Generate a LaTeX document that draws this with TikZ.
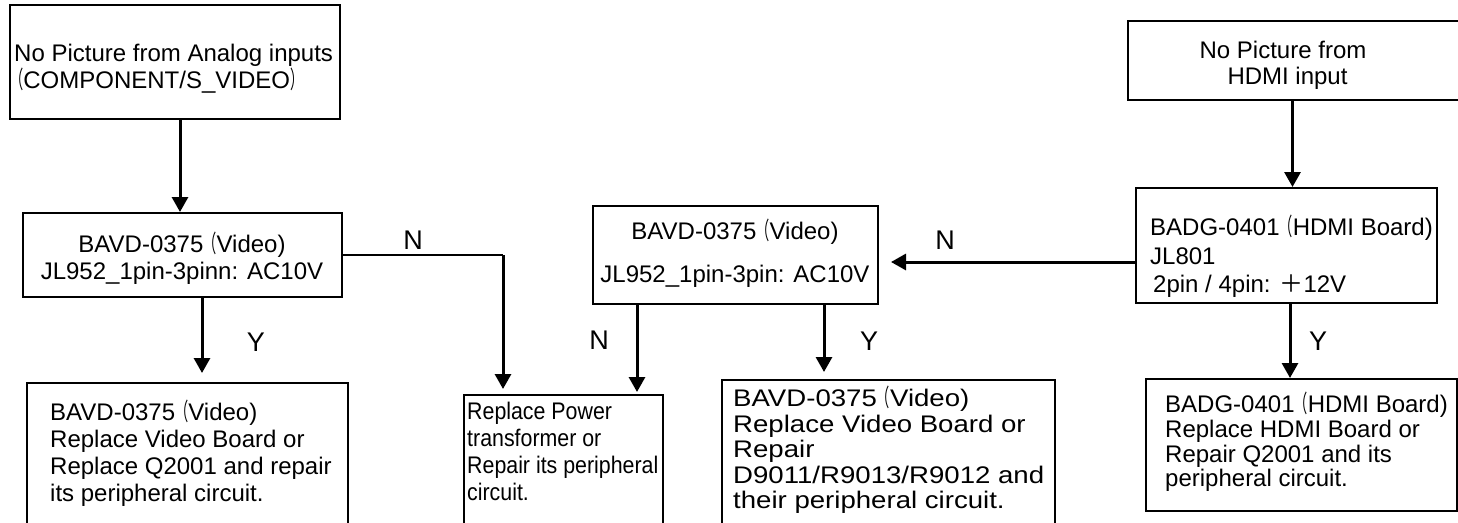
\documentclass[tikz,border=0pt]{standalone}
\usepackage{fontspec}
\setmainfont{Liberation Sans}
\newfontfamily\cjkfont{Noto Sans CJK JP}
\newfontfamily\cjknarrow[FakeStretch=0.55]{Noto Sans CJK JP}
\newfontfamily\narrowfont[FakeStretch=0.89]{Liberation Sans}
\newfontfamily\widefont[FakeStretch=1.15]{Liberation Sans}
\usetikzlibrary{arrows.meta,fit}
\newcommand\fwlp{{\cjknarrow （}}
\newcommand\fwrp{{\cjknarrow ）}}
\newcommand\fwplus{{\cjkfont ＋}}
\begin{document}
\begin{tikzpicture}[x=1pt,y=-1pt,
  box/.style={draw, line width=2pt, inner sep=0pt},
  txt/.style={inner sep=0pt, font=\fontsize{24}{#1}\selectfont},
  lab/.style={inner sep=0pt, font=\fontsize{27}{30}\selectfont},
  arr/.style={line width=3pt, -{Triangle[length=15pt,width=16pt]}},
  thinline/.style={line width=1.6pt}]
\useasboundingbox (0,0) rectangle (1458,522);
\clip (0,0) rectangle (1458,522);
% boxes
\node[box, fit={(10,5) (340,119)}] (b1) {};
\node[box, fit={(1128,21) (1475,100)}] (b2) {};
\node[box, fit={(23,213) (342,297)}] (b3) {};
\node[box, fit={(593,206) (878,304)}] (b4) {};
\node[box, fit={(1136,188) (1437,303)}] (b5) {};
\node[box, fit={(27,383) (348,545)}] (b6) {};
\node[box, fit={(464,395) (663,545)}] (b7) {};
\node[box, fit={(722,380) (1055,545)}] (b8) {};
\node[box, fit={(1146,379) (1457,511)}] (b9) {};
% texts
\node[txt=27, anchor=west, align=left] (t1) at (14,68.5)
  {No Picture from Analog inputs\\\hspace*{-4pt}\fwlp COMPONENT/S\_VIDEO\fwrp};
\node[txt=26, align=center] (t2) at (1283,65) {No Picture from\\\hspace{9pt}HDMI input};
\node[txt=27, align=center] (t3) at (182,258.5) {BAVD-0375\fwlp Video)\\JL952\_1pin-3pinn: AC10V};
\node[txt=43, align=center] (t4) at (735,253.5) {BAVD-0375\fwlp Video)\\JL952\_1pin-3pin: AC10V};
\node[txt=28.5, anchor=west, align=left] (t5) at (1150,256.5)
  {BADG-0401\fwlp HDMI Board)\\JL801\\\hspace{3pt}2pin / 4pin: \fwplus 12V};
\node[txt=27, anchor=west, align=left] (t6) at (50,453.5)
  {BAVD-0375\fwlp Video)\\Replace Video Board or\\Replace Q2001 and repair\\its peripheral circuit.};
\node[inner sep=0pt, anchor=west, align=left, font={\narrowfont\fontsize{24}{27}\selectfont}] (t7) at (467,451.5)
  {Replace Power\\transformer or\\Repair its peripheral\\circuit.};
\node[inner sep=0pt, anchor=west, align=left, font={\widefont\fontsize{24}{25.5}\selectfont}] (t8) at (733,450)
  {BAVD-0375\fwlp Video)\\Replace Video Board or\\Repair\\D9011/R9013/R9012 and\\their peripheral circuit.};
\node[txt=24.7, anchor=west, align=left] (t9) at (1165,442)
  {BADG-0401\fwlp HDMI Board)\\Replace HDMI Board or\\Repair Q2001 and its\\peripheral circuit.};
% labels
\node[lab] (ln1) at (413,240) {N};
\node[lab] (ly1) at (256,342) {Y};
\node[lab] (ln2) at (599,340) {N};
\node[lab] (ly2) at (869,341) {Y};
\node[lab] (ln3) at (945,240) {N};
\node[lab] (ly3) at (1318,341) {Y};
% connectors
\coordinate (n1) at (503,255);
\draw[arr] ([xshift=5pt]b1.south) -- ([xshift=5pt]b1.south |- b3.north);
\draw[arr] ([xshift=-9pt]b2.south) -- ([xshift=-9pt]b2.south |- b5.north);
\draw[thinline] (b3.east) -- (n1);
\draw[arr, shorten >=5pt] (n1) -- (n1 |- b7.north);
\draw[arr, shorten >=9pt] ([xshift=19.5pt]b3.south) -- ([xshift=19.5pt]b3.south |- b6.north);
\draw[arr, shorten >=2pt] ([xshift=-98.5pt]b4.south) -- ([xshift=-98.5pt]b4.south |- b7.north);
\draw[arr, shorten >=7pt] ([xshift=88.5pt]b4.south) -- ([xshift=88.5pt]b4.south |- b8.north);
\draw[arr, shorten >=12pt] ([yshift=-16.5pt]b5.west) -- ([yshift=-16.5pt]b5.west -| b4.east);
\draw[arr] ([xshift=3.5pt]b5.south) -- ([xshift=3.5pt]b5.south |- b9.north);
\end{tikzpicture}
\end{document}
